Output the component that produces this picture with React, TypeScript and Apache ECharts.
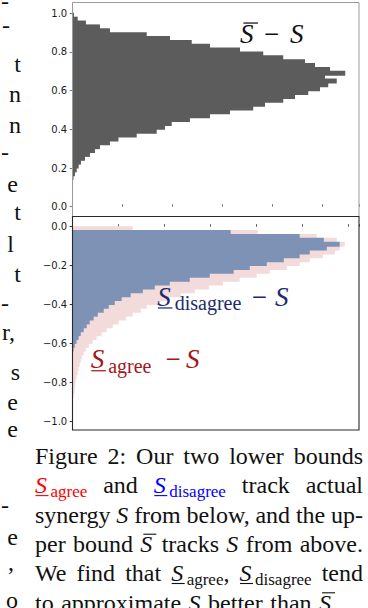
import React, { useEffect, useRef } from "react";
import * as echarts from "echarts";

// ---------- data ----------
const binWidth = 0.02;
// upper panel (S̄ − S): counts per bin, bins from 0.00 upward
const upperCounts = [
  0, 0, 0, 0, 0, 0, 0, 3, 9, 16, 24, 33, 49, 69, 89, 109, 149, 183, 256, 336,
  369, 396, 469, 549, 629, 722, 769, 842, 889, 942, 989, 1022, 1056, 1009, 1090,
  1029, 969, 929, 842, 762, 669, 549, 476, 389, 296, 149, 109, 53, 20, 5,
];
// lower panel: bins from 0.00 downward
const agreeCounts = [
  261, 805, 1061, 1148, 1183, 1161, 1140, 1088, 1031, 987, 931, 857, 800, 726,
  653, 592, 531, 470, 418, 374, 322, 296, 261, 231, 200, 174, 148, 126, 104, 87,
  70, 57, 48, 39, 35, 30, 26, 22, 17, 13, 11, 9, 7, 4,
];
const disagreeCounts = [
  0, 687, 987, 1092, 1161, 1105, 1031, 987, 918, 844, 770, 700, 596, 509, 422,
  357, 305, 252, 213, 183, 157, 135, 109, 91, 74, 61, 48, 35, 26, 17, 9, 4,
];
const upperTicks = { min: 0, max: 1, step: 0.2 };
const lowerTicks = { min: -1, max: 0, step: 0.2 };
const upperCountMax = 1145;
const lowerCountMax = 1245;
const countStep = 200;

// ---------- caption / surrounding text ----------
const captionLines: any[][] = [
  [{ t: "Figure" }, { t: "2:" }, { t: "Our" }, { t: "two" }, { t: "lower" }, { t: "bounds" }],
  [
    { s: true, sub: "agree", under: true, color: "#ff0000" },
    { t: "and" },
    { s: true, sub: "disagree", under: true, color: "#0000ff" },
    { t: "track" }, { t: "actual" },
  ],
  [{ t: "synergy" }, { s: true }, { t: "from" }, { t: "below," }, { t: "and" }, { t: "the" }, { t: "up-" }],
  [{ t: "per" }, { t: "bound" }, { s: true, over: true }, { t: "tracks" }, { s: true }, { t: "from" }, { t: "above." }],
  [
    { t: "We" }, { t: "find" }, { t: "that" },
    { s: true, sub: "agree", under: true, tail: "," },
    { s: true, sub: "disagree", under: true }, { t: "tend" },
  ],
  [{ t: "to" }, { t: "approximate" }, { s: true }, { t: "better" }, { t: "than" }, { s: true, over: true }],
];
const captionBaselines = [464.3, 493.6, 522.9, 552.2, 581.5, 610.8];
const captionJustified = [true, true, true, true, true, false];

const leftFragments = [
  [9, "-", 9], [33, "-", 10], [72, "t", 21], [102, "n", 21], [133, "n", 21],
  [160, "-", 9], [192, "e", 18], [220, "t", 21], [252, "l", 14], [282, "t", 21],
  [311, "-", 9], [340, "r,", 15], [380, "s", 20], [410, "e", 18], [437, "e", 18],
  [513, "-", 9], [545, "e", 18], [570, ",", 14], [608, "o", 18],
];

const SERIF = '"Liberation Serif", "Times New Roman", serif';

let measureCtx: CanvasRenderingContext2D | null = null;
function measure(text: string, font: string) {
  if (!measureCtx) measureCtx = document.createElement("canvas").getContext("2d");
  if (!measureCtx) return text.length * 10;
  measureCtx.font = font;
  return measureCtx.measureText(text).width;
}

function txt(text: string, x: number, baseline: number, size: number, o: any = {}) {
  return {
    type: "text",
    z: 50,
    silent: true,
    style: {
      text,
      x,
      y: baseline - 0.34 * size,
      font: `${o.italic ? "italic " : ""}${size}px ${SERIF}`,
      fill: o.color || "#111",
      align: o.align || "left",
      textAlign: o.align || "left",
      verticalAlign: "middle",
      textVerticalAlign: "middle",
    },
  };
}
function hline(x1: number, x2: number, y: number, color: string, w = 1) {
  return {
    type: "line",
    z: 50,
    silent: true,
    shape: { x1, y1: y, x2, y2: y },
    style: { stroke: color, lineWidth: w },
  };
}

function symbolWidth(size: number, subSize: number, o: any) {
  const k = size / 24;
  let w = o.sub
    ? 15.5 * k + measure(o.sub, `${subSize}px ${SERIF}`)
    : measure("S", `italic ${size}px ${SERIF}`) + (o.over ? 2 * k : 0);
  if (o.tail) w += measure(o.tail, `${size}px ${SERIF}`);
  return w;
}

function symbol(x: number, b: number, size: number, subSize: number, o: any) {
  const color = o.color || "#111";
  const els: any[] = [txt("S", x, b, size, { italic: true, color })];
  const k = size / 24;
  if (o.sub) els.push(txt(o.sub, x + 15.5 * k, b + 3.5 * k, subSize, { color }));
  if (o.under) els.push(hline(x + 0.5 * k, x + 13.5 * k, b + 2 * k, color, 1.1 * k));
  if (o.over) els.push(hline(x + 3 * k, x + 16 * k, b - 18 * k, color, 1.1 * k));
  if (o.tail) {
    const tx = x + symbolWidth(size, subSize, { ...o, tail: undefined });
    els.push(txt(o.tail, tx, b, size, { color: "#111" }));
  }
  return els;
}

function buildGraphic() {
  const g: any[] = [];
  // panel frames
  g.push({
    type: "rect", z: 60, silent: true,
    shape: { x: 72.5, y: 2.5, width: 286.5, height: 214 },
    style: { fill: "none", stroke: "#9a9a9a", lineWidth: 1 },
  });
  g.push({
    type: "rect", z: 61, silent: true,
    shape: { x: 72.5, y: 216.5, width: 286.5, height: 213.5 },
    style: { fill: "none", stroke: "#2a2a2a", lineWidth: 1.1 },
  });
  // upper label  S̄ − S
  g.push(...symbol(240, 43.3, 27, 20, { over: true, color: "#111" }));
  g.push(txt("−", 264, 43.3, 27, { color: "#111" }));
  g.push(txt("S", 290, 43.3, 27, { italic: true, color: "#111" }));
  // lower labels
  const navy = "#1c2c6e";
  const red = "#a3161b";
  g.push(...symbol(157.3, 305.7, 27, 20, { sub: "disagree", under: true, color: navy }));
  g.push(txt("−", 251.7, 305.7, 27, { color: navy }));
  g.push(txt("S", 275, 305.7, 27, { italic: true, color: navy }));
  g.push(...symbol(90.7, 368.5, 27, 20, { sub: "agree", under: true, color: red }));
  g.push(txt("−", 165.5, 368.5, 27, { color: red }));
  g.push(txt("S", 186, 368.5, 27, { italic: true, color: red }));
  // caption, justified between 35 and 363
  const left = 35;
  const right = 363;
  const wordFont = `24px ${SERIF}`;
  captionLines.forEach((line, i) => {
    const b = captionBaselines[i];
    const widths = line.map((tk: any) => (tk.s ? symbolWidth(24, 17, tk) : measure(tk.t, wordFont)));
    const total = widths.reduce((a: number, c: number) => a + c, 0);
    const gap = captionJustified[i] ? (right - left - total) / (line.length - 1) : 7.5;
    let x = left;
    line.forEach((tk: any, j: number) => {
      if (tk.s) g.push(...symbol(x, b, 24, 17, tk));
      else g.push(txt(tk.t, x, b, 24, { color: "#111" }));
      x += widths[j] + gap;
    });
  });
  // cut-off left column
  leftFragments.forEach(([b, t, x]: any) => {
    g.push(txt(t, x, b, 24, { align: "right", color: "#111" }));
  });
  return g;
}

const fmt = (v: number) => {
  const r = Math.round(v * 10) / 10;
  return (r < 0 ? "\u2212" : "") + Math.abs(r).toFixed(1);
};

const barRenderer = (fill: string) => (params: any, api: any) => {
  const lo = api.value(0);
  const hi = api.value(1);
  const c = api.value(2);
  if (!(c > 0)) return null;
  const a = api.coord([0, hi]);
  const b = api.coord([c, lo]);
  return {
    type: "rect",
    shape: { x: a[0], y: a[1] - 0.5, width: b[0] - a[0], height: b[1] - a[1] + 1 },
    style: { fill },
  };
};

export default function App() {
  const ref = useRef<HTMLDivElement>(null);
  useEffect(() => {
    if (!ref.current) return;
    const chart = echarts.init(ref.current, undefined, { renderer: "svg" });
    const upperData = upperCounts.map((c, k) => [k * binWidth, (k + 1) * binWidth, c]);
    const agreeData = agreeCounts.map((c, k) => [-(k + 1) * binWidth, -k * binWidth, c]);
    const disagreeData = disagreeCounts.map((c, k) => [-(k + 1) * binWidth, -k * binWidth, c]);
    const yAxisBase = {
      type: "value",
      axisLine: { show: false },
      splitLine: { show: false },
      axisLabel: {
        fontFamily: "DejaVu Sans",
        fontSize: 10,
        color: "#1a1a1a",
        margin: 5.5,
        formatter: fmt,
      },
    };
    const xAxisBase = {
      type: "value",
      min: 0,
      interval: countStep,
      axisLine: { show: false },
      splitLine: { show: false },
      axisLabel: { show: false },
    };
    chart.setOption({
      animation: false,
      backgroundColor: "#ffffff",
      grid: [
        { left: 72.7, top: 13.3, width: 286.3, height: 193.4, show: false },
        { left: 72.7, top: 226.7, width: 286.3, height: 194.4, show: false },
      ],
      xAxis: [
        {
          ...xAxisBase, gridIndex: 0, max: upperCountMax, offset: 10.3,
          axisTick: { show: true, inside: true, length: 2.5, lineStyle: { color: "#777" } },
        },
        {
          ...xAxisBase, gridIndex: 1, max: lowerCountMax, offset: 8.9,
          axisTick: { show: true, inside: true, length: 2.5, lineStyle: { color: "#555" } },
        },
      ],
      yAxis: [
        {
          ...yAxisBase, gridIndex: 0, min: upperTicks.min, max: upperTicks.max, interval: upperTicks.step,
          axisTick: { show: true, length: 3, lineStyle: { color: "#777" } },
        },
        {
          ...yAxisBase, gridIndex: 1, min: lowerTicks.min, max: lowerTicks.max, interval: lowerTicks.step,
          axisTick: { show: true, length: 3, lineStyle: { color: "#333" } },
        },
      ],
      series: [
        {
          type: "custom", xAxisIndex: 0, yAxisIndex: 0, silent: true, clip: false,
          encode: { x: 2, y: [0, 1] },
          renderItem: barRenderer("#5c5c5c"),
          data: upperData,
        },
        {
          type: "custom", xAxisIndex: 1, yAxisIndex: 1, silent: true, clip: false,
          encode: { x: 2, y: [0, 1] },
          renderItem: barRenderer("#f3dadb"),
          data: agreeData,
        },
        {
          type: "custom", xAxisIndex: 1, yAxisIndex: 1, silent: true, clip: false,
          encode: { x: 2, y: [0, 1] },
          renderItem: barRenderer("#7d92b4"),
          data: disagreeData,
        },
      ],
      graphic: buildGraphic(),
    });
    return () => chart.dispose();
  }, []);
  return (
    <div
      ref={ref}
      style={{ position: "absolute", left: 0, top: 0, width: 368, height: 608, background: "#fff" }}
    />
  );
}
